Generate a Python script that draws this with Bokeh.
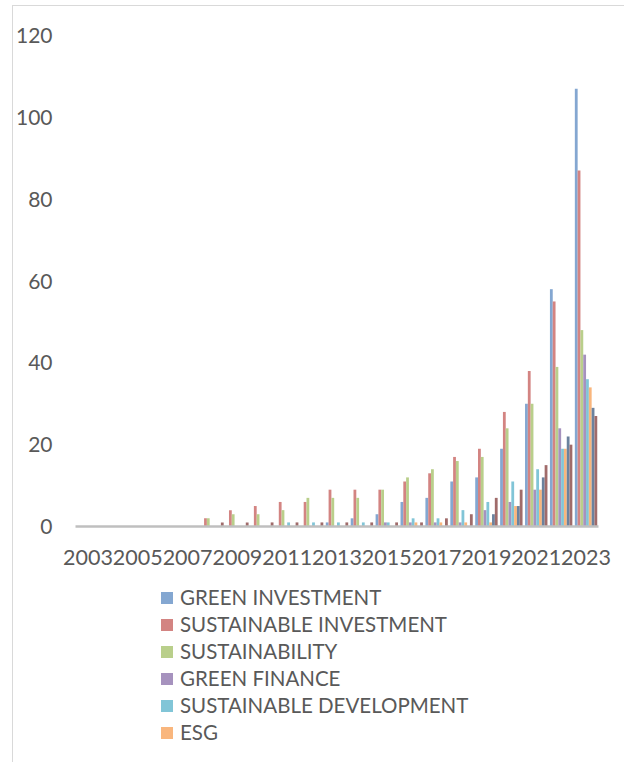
from bokeh.plotting import figure
from bokeh.models import Range1d, Legend, LegendItem, FixedTicker, ColumnDataSource
from bokeh.transform import dodge
from bokeh.embed import file_html
from bokeh.resources import INLINE

years = [str(y) for y in range(2003, 2024)]

green_investment       = [0, 0, 0, 0, 0, 0, 0, 0, 0, 0, 1, 2, 3, 6, 7, 11, 12, 19, 30, 58, 107]
sustainable_investment = [0, 0, 0, 0, 0, 2, 4, 5, 6, 6, 9, 9, 9, 11, 13, 17, 19, 28, 38, 55, 87]
sustainability         = [0, 0, 0, 0, 0, 2, 3, 3, 4, 7, 7, 7, 9, 12, 14, 16, 17, 24, 30, 39, 48]
green_finance          = [0, 0, 0, 0, 0, 0, 0, 0, 0, 0, 0, 0, 1, 1, 1, 1, 4, 6, 9, 24, 42]
sustainable_development= [0, 0, 0, 0, 0, 0, 0, 0, 1, 1, 1, 1, 1, 2, 2, 4, 6, 11, 14, 19, 36]
esg                    = [0, 0, 0, 0, 0, 0, 0, 0, 0, 0, 0, 0, 0, 1, 1, 1, 1, 5, 9, 19, 34]
series7                = [0, 0, 0, 0, 0, 0, 0, 0, 0, 0, 0, 0, 0, 0, 0, 0, 3, 5, 12, 22, 29]
series8                = [0, 0, 0, 0, 0, 1, 1, 1, 1, 1, 1, 1, 1, 1, 2, 3, 7, 9, 15, 20, 27]

series_names = ["GREEN INVESTMENT", "SUSTAINABLE INVESTMENT", "SUSTAINABILITY",
                "GREEN FINANCE", "SUSTAINABLE DEVELOPMENT", "ESG", "", ""]
series_values = [green_investment, sustainable_investment, sustainability, green_finance,
                 sustainable_development, esg, series7, series8]
colors = ["#84A7D1", "#D38482", "#B9CF8B", "#A692BE", "#81C5D7", "#F9B67D", "#6B829E", "#A06B6A"]
y_ticks = [0, 20, 40, 60, 80, 100, 120]

positions = list(range(len(years)))
data = {"pos": positions, "year": years}
for i, vals in enumerate(series_values):
    data[f"s{i}"] = vals
source = ColumnDataSource(data)

W, H = 612, 757          # canvas starts at page (13, 6) because of the border/margin
# plot area in page pixels: x 75..598 (categories), y 35 (=120) .. 526 (=0)
px_per_unit = (526 - 35) / 120.0
px_per_cat = (598 - 75) / len(years)
x0 = -0.5 - (75 - 13) / px_per_cat
x1 = len(years) - 0.5 + (625 - 598) / px_per_cat
y_min = -(763 - 526) / px_per_unit
y_max = 120 + (35 - 6) / px_per_unit

p = figure(width=W, height=H, x_range=Range1d(x0, x1), y_range=Range1d(y_min, y_max),
           output_backend="svg", toolbar_location=None,
           min_border_left=0, min_border_right=0, min_border_top=0, min_border_bottom=0,
           styles={"margin-left": "12px", "margin-top": "5px",
                   "border-left": "1px solid #D9D9D9", "border-top": "1px solid #D9D9D9"})
p.outline_line_color = None
p.grid.grid_line_color = None

n = len(series_values)
group = 0.9
bw = group / n
items = []
for i in range(n):
    off = -group / 2 + bw * (i + 0.5)
    r = p.vbar(x=dodge("pos", off), top=f"s{i}", width=bw,
               source=source, fill_color=colors[i], line_color=None)
    if series_names[i]:
        items.append(LegendItem(label=series_names[i], renderers=[r]))

# category axis baseline
p.segment(x0=[positions[0] - 0.5], x1=[positions[-1] + 0.5], y0=[0], y1=[0],
          line_color="#BFBFBF", line_width=2.5)

font = "Lato"
tc = "#595959"
# y axis
p.yaxis.fixed_location = positions[0] - 0.5
p.yaxis.ticker = FixedTicker(ticks=y_ticks, minor_ticks=[])
p.yaxis.axis_line_color = None
p.yaxis.major_tick_line_color = None
p.yaxis.minor_tick_line_color = None
p.yaxis.major_label_text_font = font
p.yaxis.major_label_text_font_size = "21px"
p.yaxis.major_label_text_color = tc
p.yaxis.major_label_standoff = 17

# x axis: every other year labelled, drawn at y = 0
shown = [i for i, y in enumerate(years) if int(y) % 2 == 1]
p.xaxis.fixed_location = 0
p.xaxis.ticker = FixedTicker(ticks=shown, minor_ticks=[])
p.xaxis.major_label_overrides = {i: years[i] for i in shown}
p.xaxis.axis_line_color = None
p.xaxis.major_tick_line_color = None
p.xaxis.minor_tick_line_color = None
p.xaxis.major_label_text_font = font
p.xaxis.major_label_text_font_size = "21.5px"
p.xaxis.major_label_text_color = tc
p.xaxis.major_label_standoff = 17

legend = Legend(items=items, location=(146, 19), orientation="vertical",
                padding=0, margin=0, spacing=3,
                glyph_width=15, glyph_height=15, label_height=20,
                label_standoff=6, label_text_font=font, label_text_font_size="20.5px",
                label_text_color=tc, border_line_color=None, background_fill_alpha=0)
p.add_layout(legend, "center")

open("out.html", "w").write(file_html(p, INLINE))
